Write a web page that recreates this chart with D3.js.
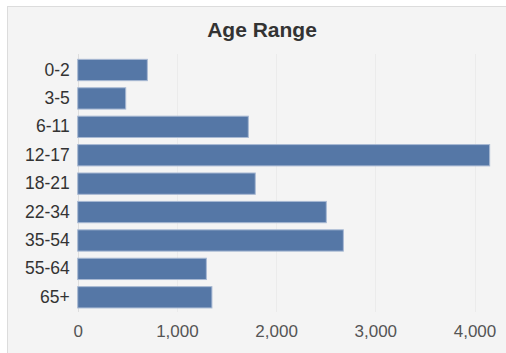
<!DOCTYPE html>
<html>
<head>
<meta charset="utf-8">
<script src="https://cdn.jsdelivr.net/npm/d3@7"></script>
<style>
  body { margin: 0; background: #fff; }
  svg { display: block; font-family: "Liberation Sans", Arial, sans-serif; }
</style>
</head>
<body>
<svg id="chart" width="506" height="353"></svg>
<script>
// data
var categories = ["0-2", "3-5", "6-11", "12-17", "18-21", "22-34", "35-54", "55-64", "65+"];
var counts = [702, 484, 1720, 4153, 1790, 2506, 2678, 1297, 1353];
var xTicks = [0, 1000, 2000, 3000, 4000];
var title = "Age Range";

var svg = d3.select("#chart");

// panel
svg.append("rect")
    .attr("x", 7.5).attr("y", 6.5)
    .attr("width", 520).attr("height", 360)
    .attr("fill", "#f4f4f4")
    .attr("stroke", "#dcdcdc");

svg.append("text")
    .attr("x", 262).attr("y", 37)
    .attr("text-anchor", "middle")
    .style("font-size", "21px")
    .style("font-weight", "bold")
    .style("fill", "#333")
    .text(title);

var x = d3.scaleLinear().domain([0, 4000]).range([77.7, 474.5]);

var y = d3.scaleBand()
    .domain(categories)
    .range([55.8, 311.5])
    .paddingInner(0.25)
    .paddingOuter(0.125);

// grid lines
svg.append("g")
    .selectAll("line")
    .data(xTicks)
  .enter().append("line")
    .attr("x1", function(d) { return Math.round(x(d)) + 0.5; })
    .attr("x2", function(d) { return Math.round(x(d)) + 0.5; })
    .attr("y1", 54)
    .attr("y2", 312)
    .attr("stroke", function(d) { return d === 0 ? "#dedede" : "#ebebeb"; });

// bars
svg.append("g")
    .selectAll("rect")
    .data(categories)
  .enter().append("rect")
    .attr("x", x(0))
    .attr("y", function(d) { return y(d); })
    .attr("width", function(d, i) { return x(counts[i]) - x(0); })
    .attr("height", y.bandwidth())
    .attr("fill", "#5577a6")
    .attr("stroke", "#a8b9d3")
    .attr("stroke-width", 1);

// y axis labels
var yAxis = d3.axisLeft(y).tickSize(0).tickPadding(8);
var gy = svg.append("g")
    .attr("transform", "translate(" + x(0) + ",0)")
    .call(yAxis);
gy.select(".domain").remove();
gy.selectAll("text")
    .style("font-size", "17.5px")
    .style("fill", "#333")
    .style("font-family", "'Liberation Sans', Arial, sans-serif");

// x axis labels
var xAxis = d3.axisBottom(x)
    .tickValues(xTicks)
    .tickFormat(d3.format(","))
    .tickSize(0)
    .tickPadding(13);
var gx = svg.append("g")
    .attr("transform", "translate(0,312)")
    .call(xAxis);
gx.select(".domain").remove();
gx.selectAll("text")
    .style("font-size", "17px")
    .style("fill", "#555")
    .style("font-family", "'Liberation Sans', Arial, sans-serif");
</script>
</body>
</html>
